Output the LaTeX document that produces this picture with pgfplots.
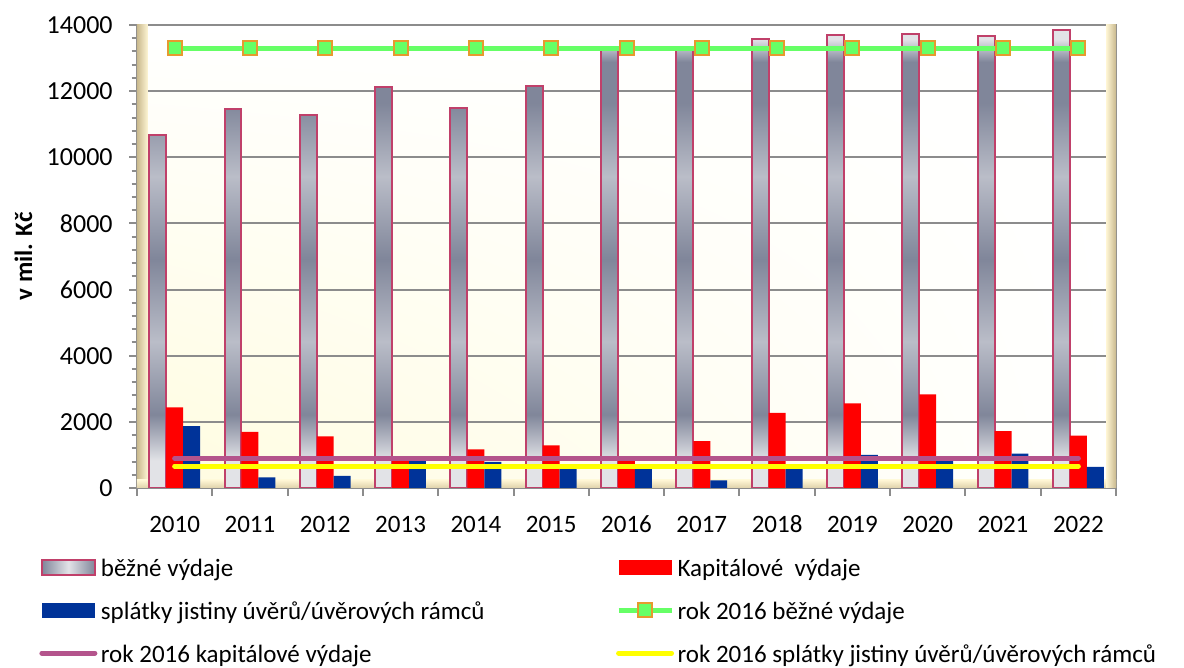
\documentclass[border=0pt]{standalone}
\usepackage{pgfplots}
\pgfplotsset{compat=1.18}
\usetikzlibrary{shadings}
\usepackage{fontspec}
\setmainfont{Carlito}
\definecolor{grayL}{HTML}{E2E3E7}
\definecolor{grayM}{HTML}{BABDC8}
\definecolor{grayD}{HTML}{80869A}
\definecolor{barBorder}{HTML}{C0406A}
\definecolor{capRed}{HTML}{FF0000}
\definecolor{splBlue}{HTML}{003399}
\definecolor{lnGreen}{HTML}{66FF66}
\definecolor{mkOrange}{HTML}{E69A2E}
\definecolor{lnPurple}{HTML}{B4548C}
\definecolor{lnYellow}{HTML}{FFFF00}
\definecolor{gridGray}{HTML}{8C8C8C}
\definecolor{bgYellow}{HTML}{FFFCDF}
\definecolor{wallDark}{HTML}{C9B98E}
\definecolor{wallLight}{HTML}{FFF6D5}
\pgfdeclareverticalshading{metal}{100bp}{%
 color(0bp)=(grayL); color(25bp)=(grayL); color(28bp)=(grayL);
 color(33bp)=(grayD); color(41bp)=(grayM); color(50bp)=(grayD);
 color(59bp)=(grayM); color(67bp)=(grayD); color(71.5bp)=(grayD);
 color(74bp)=(grayL); color(75bp)=(grayL); color(100bp)=(grayL)}
\pgfplotsset{
  legbar/.style={legend image code/.code={\fill[##1] (0pt,-3.75pt) rectangle (26.5pt,3.75pt);}},
  leggray/.style={legend image code/.code={\draw[##1, left color=grayD, right color=grayD, middle color=grayL] (0pt,-3.75pt) rectangle (26.5pt,3.75pt);}},
  legline/.style={legend image code/.code={\draw[##1] (0pt,0pt) -- (26.5pt,0pt);}},
  legmark/.style={legend image code/.code={\draw[##1, mark repeat=2, mark phase=2] plot coordinates {(0pt,0pt) (13.25pt,0pt) (26.5pt,0pt)};}},
}
\begin{document}
\begin{tikzpicture}
\useasboundingbox (0,0) rectangle (592pt,334pt);
\begin{axis}[
  at={(68.5pt,90pt)}, anchor=south west,
  scale only axis, width=489.5pt, height=231.5pt,
  xmin=-0.5, xmax=12.5, ymin=0, ymax=14000,
  xtick={-0.5,0.5,...,12.5}, xticklabels={},
  extra x ticks={0,1,...,12},
  extra x tick labels={2010,2011,2012,2013,2014,2015,2016,2017,2018,2019,2020,2021,2022},
  extra x tick style={major tick length=0pt, xticklabel style={yshift=-13.5pt}},
  ytick={0,2000,...,14000}, minor y tick num=4,
  scaled y ticks=false,
  tick pos=left,
  ymajorgrids, major grid style={gridGray, line width=1pt},
  axis line style={gridGray, line width=1pt},
  tick style={gridGray, line width=1pt},
  tick align=center, major tick length=8pt, minor tick length=5.5pt,
  /pgf/number format/assume math mode=true,
  /pgf/number format/1000 sep={},
  xticklabel style={font=\fontsize{12.5}{15}\selectfont, inner sep=0pt, anchor=north, text height=8.5pt, text depth=0pt},
  yticklabel style={font=\fontsize{13}{15}\selectfont, inner sep=0pt, xshift=-8pt},
  ylabel={v mil. Kč},
  ylabel style={font=\bfseries\fontsize{12.5}{15}\selectfont, at={(axis description cs:-0.1159,0.5)}, anchor=center},
  axis background/.style={shade, lower left=bgYellow, upper left=white, lower right=white, upper right=white},
  legend columns=2,
  legend cell align=left,
  legend style={draw=none, fill=none, at={(0,0)}, anchor=north west, xshift=-49pt, yshift=-31.8pt,
    inner sep=0pt, font=\fontsize{12.5}{15}\selectfont, row sep=5.9pt,
    nodes={inner sep=1.75pt},
    /tikz/every even column/.append style={column sep=64pt}},
]
\fill[left color=wallDark, right color=wallLight] (rel axis cs:0,0) rectangle (rel axis cs:0.0112,1);
\fill[top color=wallLight, bottom color=wallDark!60!wallLight] (rel axis cs:0,0) rectangle (rel axis cs:1,0.0173);
\fill[left color=wallLight, right color=wallDark] (rel axis cs:0.9898,0) rectangle (rel axis cs:1,1);

\addplot[ybar, bar width=0.225, bar shift=-0.225, draw=barBorder, line width=1pt, shade, shading=metal, leggray]
  coordinates {(0,10670) (1,11460) (2,11280) (3,12110) (4,11500) (5,12150) (6,13250) (7,13250) (8,13570) (9,13700) (10,13720) (11,13660) (12,13850)};
\addlegendentry{\strut běžné výdaje}
\addplot[ybar, bar width=0.225, bar shift=0, fill=capRed, draw=none, legbar]
  coordinates {(0,2440) (1,1700) (2,1560) (3,840) (4,1170) (5,1290) (6,820) (7,1420) (8,2270) (9,2560) (10,2830) (11,1720) (12,1580)};
\addlegendentry{\strut Kapitálové\ \ výdaje}
\addplot[ybar, bar width=0.225, bar shift=0.225, fill=splBlue, draw=none, legbar]
  coordinates {(0,1870) (1,320) (2,370) (3,830) (4,790) (5,640) (6,640) (7,230) (8,640) (9,1000) (10,860) (11,1040) (12,640)};
\addlegendentry{\strut splátky jistiny úvěrů/úvěrových rámců}
\addplot[lnGreen, line width=2.5pt, mark=square*, mark size=3.5pt,
  mark options={fill=lnGreen, draw=mkOrange, line width=1pt}, legmark]
  coordinates {(0,13290) (1,13290) (2,13290) (3,13290) (4,13290) (5,13290) (6,13290) (7,13290) (8,13290) (9,13290) (10,13290) (11,13290) (12,13290)};
\addlegendentry{\strut rok 2016 běžné výdaje}
\addplot[lnPurple, line width=2.5pt, line cap=round, legline]
  coordinates {(0,900) (1,900) (2,900) (3,900) (4,900) (5,900) (6,900) (7,900) (8,900) (9,900) (10,900) (11,900) (12,900)};
\addlegendentry{\strut rok 2016 kapitálové výdaje}
\addplot[lnYellow, line width=2.5pt, line cap=round, legline]
  coordinates {(0,660) (1,660) (2,660) (3,660) (4,660) (5,660) (6,660) (7,660) (8,660) (9,660) (10,660) (11,660) (12,660)};
\addlegendentry{\strut rok 2016 splátky jistiny úvěrů/úvěrových rámců}
\end{axis}
\end{tikzpicture}
\end{document}
